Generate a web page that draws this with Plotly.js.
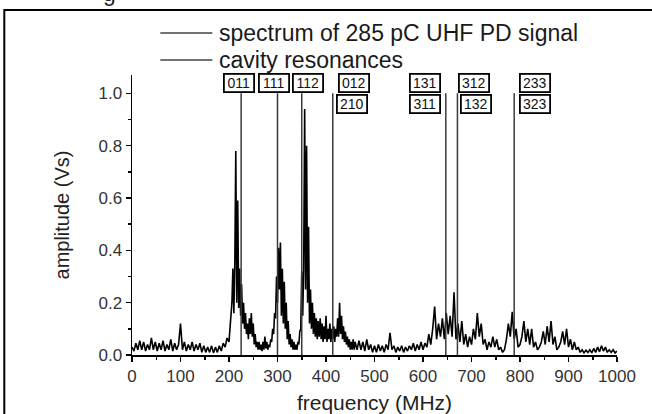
<!DOCTYPE html>
<html>
<head>
<meta charset="utf-8">
<script src="https://cdn.plot.ly/plotly-3.0.1.min.js"></script>
<style>html,body{margin:0;padding:0;background:#fff;}#chart{width:652px;height:414px;}</style>
</head>
<body>
<div id="chart"></div>
<script>
// ---- spectrum of 285 pC UHF PD signal (amplitude in Vs), sampled in three frequency segments ----
const seg1Start = 0, seg1Step = 4;
const seg1Amp = [0.03,0.015,0.045,0.02,0.055,0.02,0.05,0.015,0.04,0.02,0.065,0.02,0.05,0.015,0.045,0.02,0.055,0.015,0.04,0.02,
  0.06,0.015,0.045,0.02,0.04,0.12,0.02,0.05,0.015,0.04,0.02,0.05,0.015,0.04,0.02,0.045,0.01,0.035,0.01,0.03,
  0.01,0.035,0.008,0.03,0.01,0.035,0.015,0.045,0.03,0.065];
const seg2Start = 200, seg2Step = 2;
const seg2Amp = [0.05,0.09,0.14,0.2,0.33,0.16,0.35,0.78,0.2,0.59,0.18,0.33,0.15,0.27,0.12,0.2,0.1,0.16,0.08,0.12,
  0.06,0.14,0.08,0.16,0.07,0.12,0.04,0.08,0.03,0.05,0.02,0.05,0.02,0.04,0.015,0.05,0.02,0.07,0.025,0.05,
  0.02,0.04,0.03,0.06,0.05,0.1,0.08,0.16,0.14,0.3,0.2,0.41,0.25,0.43,0.15,0.33,0.12,0.28,0.1,0.2,
  0.06,0.13,0.04,0.08,0.03,0.06,0.02,0.05,0.02,0.04,0.02,0.05,0.04,0.09,0.1,0.32,0.15,0.33,0.94,0.25,
  0.8,0.2,0.49,0.12,0.25,0.1,0.2,0.08,0.16,0.07,0.14,0.06,0.13,0.07,0.14,0.06,0.12,0.05,0.11,0.06,
  0.15,0.05,0.1,0.06,0.12,0.05,0.1,0.06,0.11,0.05,0.1,0.07,0.14,0.07,0.2,0.08,0.15,0.06,0.11,0.05,
  0.09,0.04,0.07,0.03,0.06,0.02,0.05,0.02,0.06,0.02];
const seg3Start = 460, seg3Step = 4;
const seg3Amp = [0.05,0.02,0.055,0.02,0.05,0.015,0.06,0.02,0.04,0.01,0.035,0.01,0.04,0.015,0.035,0.01,0.04,0.02,0.085,0.02,
  0.035,0.01,0.03,0.015,0.035,0.01,0.03,0.015,0.035,0.02,0.045,0.015,0.04,0.02,0.05,0.02,0.045,0.03,0.08,0.04,
  0.1,0.185,0.06,0.12,0.07,0.14,0.06,0.16,0.08,0.15,0.07,0.24,0.06,0.12,0.05,0.13,0.04,0.08,0.03,0.07,
  0.04,0.1,0.06,0.16,0.07,0.12,0.04,0.06,0.02,0.05,0.03,0.07,0.03,0.06,0.02,0.03,0.01,0.02,0.06,0.12,
  0.07,0.165,0.06,0.1,0.03,0.04,0.07,0.13,0.05,0.1,0.04,0.1,0.03,0.05,0.02,0.03,0.05,0.09,0.04,0.11,
  0.05,0.13,0.04,0.07,0.02,0.03,0.05,0.09,0.04,0.1,0.03,0.06,0.02,0.05,0.02,0.03,0.01,0.02,0.008,0.018,
  0.01,0.02,0.008,0.025,0.01,0.03,0.012,0.035,0.015,0.03,0.01,0.02,0.01,0.02,0.008,0.015];

// ---- cavity resonances (MHz) and their mode labels ----
const resonanceFreq = [225, 300, 350, 414, 647, 671, 788];
const resonanceTop = 1.0;
const modeLabels = ["011","111","112","012","210","131","311","312","132","233","323"];
const modeX      = [221.6, 292.2, 363.0, 458.4, 454.2, 604.7, 603.3, 705.8, 710.0, 831.5, 831.5];
const modeY      = [1.038, 1.038, 1.038, 1.038, 0.958, 1.040, 0.960, 1.040, 0.960, 1.040, 0.960];

// ---- axis ticks ----
const xTickVals = [0,100,200,300,400,500,600,700,800,900,1000];
const yTickVals = [0.0,0.2,0.4,0.6,0.8,1.0];

const legendNames = ["spectrum of 285 pC UHF PD signal", "cavity resonances"];

// build spectrum arrays
const specF = [], specA = [];
[[seg1Start, seg1Step, seg1Amp],[seg2Start, seg2Step, seg2Amp],[seg3Start, seg3Step, seg3Amp]].forEach(([s, st, arr]) => {
  arr.forEach((a, i) => { specF.push(s + i * st); specA.push(a); });
});

// build resonance line arrays
const resX = [], resY = [];
resonanceFreq.forEach(f => { resX.push(f, f, null); resY.push(0, resonanceTop, null); });

const FONT = "Liberation Sans, Arial, Helvetica, sans-serif";

const traces = [
  {x: specF, y: specA, type: 'scatter', mode: 'lines', name: legendNames[0],
   line: {color: '#000', width: 1.6}, hoverinfo: 'skip'},
  {x: resX, y: resY, type: 'scatter', mode: 'lines', name: legendNames[1],
   line: {color: '#3a3a3a', width: 1.5}, connectgaps: false, hoverinfo: 'skip'}
];

const annotations = modeLabels.map((t, i) => ({
  x: modeX[i], y: modeY[i], xref: 'x', yref: 'y', text: t, showarrow: false,
  font: {family: FONT, size: 14, color: '#111'},
  bgcolor: '#fff', bordercolor: '#000', borderwidth: 1.8, borderpad: 1,
  width: 26, height: 14, xanchor: 'center', yanchor: 'middle'
}));

// manual legend (text)
const legendRowY = [1.15, 1.0536];
legendNames.forEach((n, i) => {
  annotations.push({x: 0.176, y: legendRowY[i], xref: 'paper', yref: 'paper', text: n, showarrow: false,
    xanchor: 'left', yanchor: 'middle', font: {family: FONT, size: 23, color: '#1a1a1a'}});
});
// cropped caption remnant at the very top (cut off in the reference too)
annotations.push({x: -0.047, y: 1.293, xref: 'paper', yref: 'paper', text: 'g', showarrow: false,
  xanchor: 'center', yanchor: 'middle', font: {family: FONT, size: 23, color: '#222'}});

const shapes = [
  // outer frame (partially cropped)
  {type: 'rect', xref: 'paper', yref: 'paper', x0: -0.2633, x1: 1.12, y0: -0.3, y1: 1.232,
   line: {color: '#000', width: 2}, fillcolor: 'rgba(0,0,0,0)'},
  // legend line samples
  {type: 'line', xref: 'paper', yref: 'paper', x0: 0.0584, x1: 0.1657, y0: legendRowY[0], y1: legendRowY[0],
   line: {color: '#444', width: 1.5}},
  {type: 'line', xref: 'paper', yref: 'paper', x0: 0.0584, x1: 0.1657, y0: legendRowY[1], y1: legendRowY[1],
   line: {color: '#444', width: 1.5}}
];

const layout = {
  width: 652, height: 414,
  margin: {l: 132, r: 35, t: 75, b: 59, pad: 0},
  paper_bgcolor: '#fff', plot_bgcolor: '#fff',
  showlegend: false,
  font: {family: FONT, color: '#222'},
  xaxis: {
    range: [0, 1000], tickvals: xTickVals, ticks: 'outside', ticklen: 5, tickwidth: 1.5, tickcolor: '#000',
    minor: {dtick: 50, tick0: 0, ticks: 'outside', ticklen: 3, tickwidth: 1.5, tickcolor: '#000'},
    showline: true, linecolor: '#000', linewidth: 1.5, showgrid: false, zeroline: false,
    tickfont: {family: FONT, size: 17, color: '#333'},
    title: {text: 'frequency (MHz)', font: {family: FONT, size: 21, color: '#222'}, standoff: 12}
  },
  yaxis: {
    range: [0, 1.07], tickvals: yTickVals, tickformat: '.1f', ticks: 'outside', ticklen: 5, tickwidth: 1.5, tickcolor: '#000',
    minor: {dtick: 0.1, tick0: 0, ticks: 'outside', ticklen: 3, tickwidth: 1.5, tickcolor: '#000'},
    showline: true, linecolor: '#000', linewidth: 1.5, showgrid: false, zeroline: false,
    tickfont: {family: FONT, size: 17, color: '#333'},
    title: {text: 'amplitude (Vs)', font: {family: FONT, size: 20, color: '#222'}, standoff: 23}
  },
  annotations: annotations,
  shapes: shapes
};

Plotly.newPlot('chart', traces, layout, {staticPlot: true, displayModeBar: false});
</script>
</body>
</html>
